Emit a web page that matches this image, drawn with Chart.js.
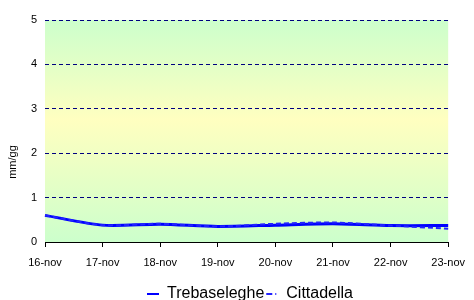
<!DOCTYPE html>
<html><head><meta charset="utf-8">
<script src="https://cdn.jsdelivr.net/npm/chart.js@4"></script>
<style>html,body{margin:0;padding:0;background:#fff}#wrap{width:474px;height:300px}</style>
</head><body><div id="wrap"><canvas id="c" width="474" height="300"></canvas></div>
<script>
const categories = ['16-nov','17-nov','18-nov','19-nov','20-nov','21-nov','22-nov','23-nov'];
const trebaseleghe = [0.60, 0.38, 0.40, 0.35, 0.38, 0.41, 0.37, 0.37];
const cittadella   = [0.60, 0.38, 0.41, 0.35, 0.41, 0.44, 0.37, 0.30];
const yTicks = [0, 1, 2, 3, 4, 5];
const yTitle = 'mm/gg';

const bgPlugin = {
  id: 'bg',
  beforeDraw(chart) {
    const {ctx, chartArea: a} = chart;
    const g = ctx.createLinearGradient(0, a.top, 0, a.bottom);
    g.addColorStop(0, '#ccffcc');
    g.addColorStop(0.45, '#ffffc0');
    g.addColorStop(1, '#ccffcc');
    ctx.save(); ctx.fillStyle = g;
    ctx.fillRect(a.left, a.top, a.right - a.left, a.bottom - a.top);
    ctx.restore();
  }
};
const titlePlugin = {
  id: 'ytitle',
  afterDraw(chart) {
    const ctx = chart.ctx;
    ctx.save();
    ctx.translate(13, 162);
    ctx.rotate(-Math.PI / 2);
    ctx.font = '11px "Liberation Sans", Arial, sans-serif';
    ctx.fillStyle = '#000';
    ctx.textAlign = 'center'; ctx.textBaseline = 'middle';
    ctx.fillText(yTitle, 0, 0);
    ctx.restore();
  }
};
const legendShift = {
  id: 'legendShift',
  afterLayout(chart) {
    const l = chart.legend;
    if (!l) return;
    l.left += 22; l.right += 22;
    l.top += 2; l.bottom += 2;
  }
};

new Chart(document.getElementById('c'), {
  type: 'line',
  data: {
    labels: categories,
    datasets: [
      {label: 'Trebaseleghe', data: trebaseleghe, borderColor: '#0000ff', borderWidth: 3, pointRadius: 0, tension: 0.25, order: 2, fill: false},
      {label: 'Cittadella', data: cittadella, borderColor: '#2222ff', borderWidth: 2, borderDash: [5, 3], pointRadius: 0, tension: 0.25, order: 1, fill: false}
    ]
  },
  options: {
    responsive: false, animation: false,
    layout: {padding: {top: 20, right: 18, bottom: -10, left: 0}},
    plugins: {
      tooltip: {enabled: false},
      legend: {
        position: 'bottom',
        labels: {
          usePointStyle: true, pointStyle: 'line', pointStyleWidth: 12, boxHeight: 10,
          padding: 2, color: '#000',
          font: {family: '"Liberation Sans", Arial, sans-serif', size: 16},
          sort: (a, b) => a.datasetIndex - b.datasetIndex,
          generateLabels(chart) {
            const items = Chart.defaults.plugins.legend.labels.generateLabels(chart);
            items.forEach(it => {
              it.lineWidth = 2;
              it.lineDash = it.datasetIndex === 1 ? [6, 3, 1, 3] : [];
            });
            return items;
          }
        }
      }
    },
    scales: {
      x: {
        offset: false,
        grid: {drawOnChartArea: false, drawTicks: true, tickLength: 5, color: '#000'},
        border: {display: true, color: '#000', width: 1},
        ticks: {color: '#000', padding: 9, maxRotation: 0, autoSkip: false, font: {family: '"Liberation Sans", Arial, sans-serif', size: 11}},
        afterFit(s) { s.height = 40; }
      },
      y: {
        min: 0, max: 5,
        afterBuildTicks(s) { s.ticks = yTicks.map(v => ({value: v})); },
        grid: {drawTicks: false, color: (c) => c.tick && c.tick.value === 0 ? 'rgba(0,0,0,0)' : '#000080', lineWidth: 1},
        border: {display: false, dash: [4, 3]},
        ticks: {color: '#000', padding: 8, font: {family: '"Liberation Sans", Arial, sans-serif', size: 11}},
        afterFit(s) { s.width = 45; }
      }
    }
  },
  plugins: [bgPlugin, titlePlugin, legendShift]
});
</script></body></html>
